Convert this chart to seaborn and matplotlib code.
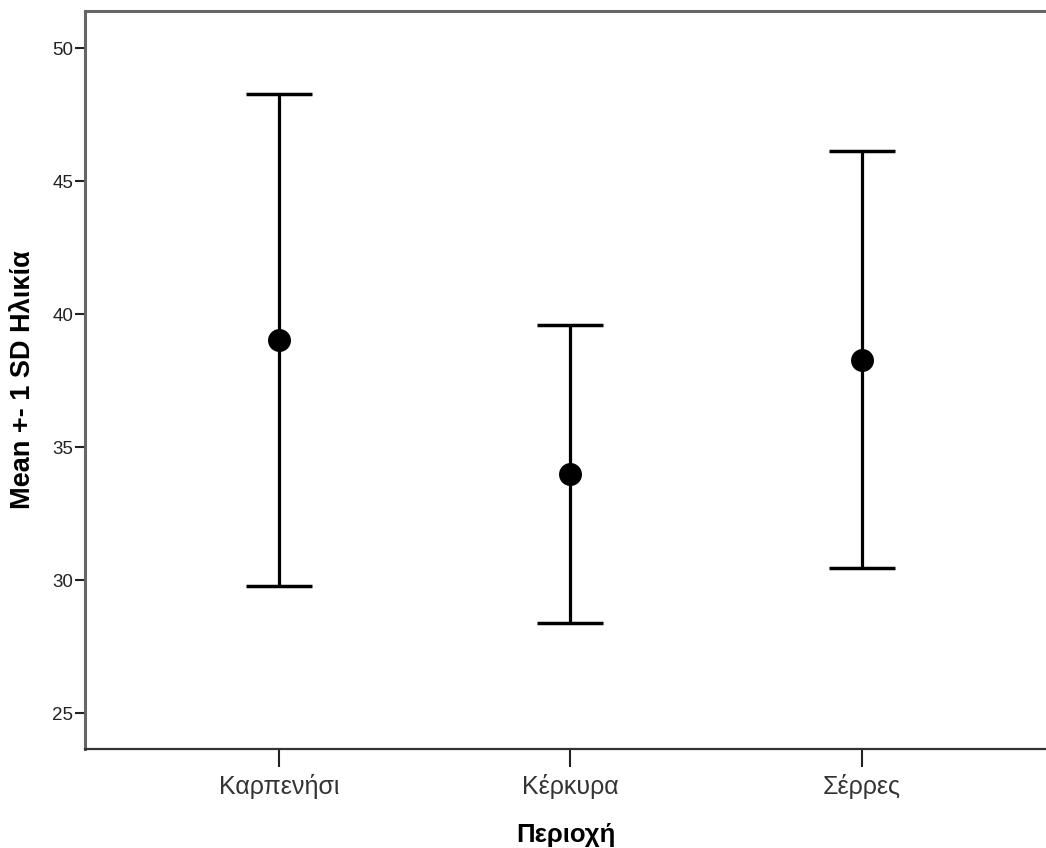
import matplotlib
matplotlib.use("Agg")
import matplotlib.pyplot as plt
import seaborn as sns
import pandas as pd
import numpy as np

categories = ["Καρπενήσι", "Κέρκυρα", "Σέρρες"]
means = [39.02, 33.98, 38.29]
sds = [9.26, 5.61, 7.84]
yticks = [25, 30, 35, 40, 45, 50]

sns.set_theme(style="white")
plt.rcParams['font.family'] = ['Liberation Sans', 'DejaVu Sans']

df = pd.DataFrame({"Περιοχή": categories, "mean": means, "sd": sds})

fig = plt.figure(figsize=(10.46, 8.48), dpi=100)
ax = fig.add_axes([85/1046, 99/848, 1 - 85/1046, (749 - 10.5)/848])

sns.pointplot(data=df, x="Περιοχή", y="mean", errorbar=None, linestyle="none",
              color="black", markersize=14.5, ax=ax, zorder=3)
ax.errorbar(x=np.arange(len(categories)), y=df["mean"], yerr=df["sd"], fmt="none",
            ecolor="black", elinewidth=2.3, capsize=23.5, capthick=2.5, zorder=2)

ax.set_xlim(-0.6655, 2 + (1046 - 862) / 291.5)
ax.set_ylim(23.65, 51.41)
ax.set_yticks(yticks)
ax.set_yticklabels([str(t) for t in yticks], fontsize=13.5, color="#222222")
ax.set_xticks(range(len(categories)))
ax.set_xticklabels(categories, fontsize=18, color="#333333")

ax.tick_params(axis="y", direction="out", length=7, width=1.5, color="#222222", pad=1.5, left=True)
ax.tick_params(axis="x", direction="out", length=13, width=1.5, color="#222222", pad=5, bottom=True)

ax.set_ylabel("Mean +- 1 SD Ηλικία", fontsize=19.5, fontweight="bold", color="black", labelpad=12)
ax.set_xlabel("Περιοχή", fontsize=18.5, fontweight="bold", color="black", labelpad=17)

for s in ["top", "left"]:
    ax.spines[s].set_color("#666666")
    ax.spines[s].set_linewidth(2.2)
ax.spines["bottom"].set_color("#333333")
ax.spines["bottom"].set_linewidth(1.6)
ax.spines["right"].set_visible(False)

fig.savefig("out.png", dpi=100)
